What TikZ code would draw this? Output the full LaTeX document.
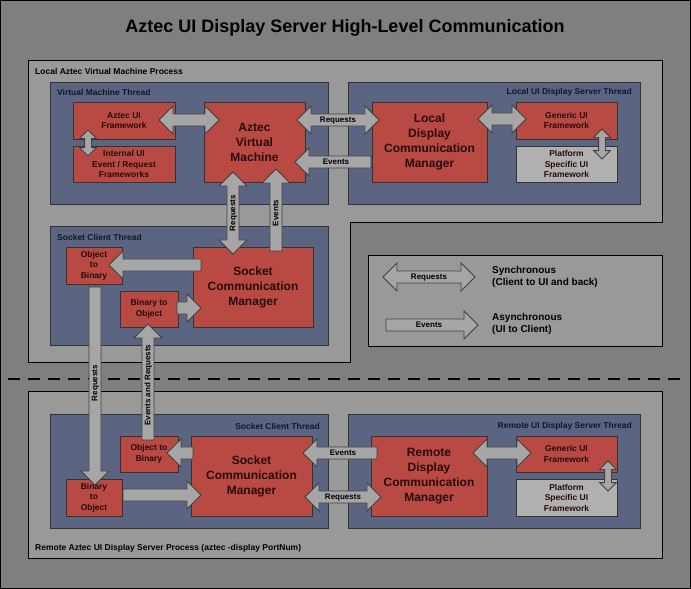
\documentclass[tikz,border=0pt]{standalone}
\usepackage{fontspec}
\setmainfont{Liberation Sans}
\usetikzlibrary{shapes.arrows}
\definecolor{bggray}{RGB}{127,127,127}
\definecolor{procgray}{RGB}{153,153,153}
\definecolor{threadblue}{RGB}{91,100,128}
\definecolor{boxred}{RGB}{185,74,67}
\definecolor{boxgray}{RGB}{176,176,176}
\definecolor{arrgray}{RGB}{166,166,166}
\definecolor{darktext}{RGB}{40,10,10}
\definecolor{navytext}{RGB}{16,24,48}
\tikzset{
  box/.style={draw=black!80, line width=1pt, inner sep=1pt, align=center,
    text=darktext, font=\fontsize{8.5}{10.5}\selectfont\bfseries},
  rbox/.style={box, fill=boxred},
  gbox/.style={box, fill=boxgray},
  big/.style={font=\fontsize{12}{15}\selectfont\bfseries},
  thread/.style={draw=black!80, line width=1pt, fill=threadblue},
  proc/.style={draw=black, line width=1pt, fill=procgray},
  tlabel/.style={font=\fontsize{8.5}{10}\selectfont\bfseries, text=navytext, inner sep=0pt},
  plabel/.style={font=\fontsize{8.5}{10}\selectfont\bfseries, text=black, inner sep=0pt},
  arr/.style={draw=black!75, line width=0.8pt, fill=arrgray, inner sep=1.5pt,
    text height=6.5pt, text depth=1.8pt, font=\fontsize{8}{9}\selectfont\bfseries},
  sarr/.style={arr, single arrow, single arrow head extend=8pt},
  darr/.style={arr, double arrow, double arrow head extend=8pt},
  small/.style={text height=3pt, text depth=1pt, inner sep=1pt},
  left/.style={shape border rotate=180},
}
\begin{document}
\begin{tikzpicture}[x=1pt, y=-1pt]
\useasboundingbox (0,0) rectangle (691,589);
\fill[bggray] (0,0) rectangle (691,589);
\draw[black, line width=1pt] (0.5,0.5) rectangle (690,588);
\node[font=\fontsize{18}{21}\selectfont\bfseries] (title) at (345,28) {Aztec UI Display Server High-Level Communication};

% local process
\draw[proc] (28,60) -| (662,222) -| (350,362) -| cycle;
\node[plabel, anchor=west] (lproc) at (35,71) {Local Aztec Virtual Machine Process};
\draw[thread] (50,82) rectangle (328,204);
\node[tlabel, anchor=west] (tvm) at (57,92) {Virtual Machine Thread};
\draw[thread] (348,82) rectangle (640,204);
\node[tlabel, anchor=east] (tluid) at (632,92) {Local UI Display Server Thread};
\draw[thread] (50,226) rectangle (328,345);
\node[tlabel, anchor=west] (tsc1) at (57,237) {Socket Client Thread};

% legend
\draw[black, line width=1pt, fill=procgray] (368,255) rectangle (662,346);
\node[plabel, anchor=west, align=left, font=\fontsize{10}{12.5}\selectfont\bfseries] (sync) at (492,277) {Synchronous\\(Client to UI and back)};
\node[plabel, anchor=west, align=left, font=\fontsize{10}{12.5}\selectfont\bfseries] (async) at (492,324) {Asynchronous\\(UI to Client)};

% separator
\draw[black, line width=2pt, dash pattern=on 12pt off 8pt] (8,379) -- (684,379);

% remote process
\draw[proc] (28,391) rectangle (662,558);
\node[plabel, anchor=west] (rproc) at (35,548) {Remote Aztec UI Display Server Process (aztec -display PortNum)};
\draw[thread] (50,414) rectangle (328,528);
\node[tlabel, anchor=east] (tsc2) at (320,426) {Socket Client Thread};
\draw[thread] (348,414) rectangle (640,528);
\node[tlabel, anchor=east] (truid) at (632,426) {Remote UI Display Server Thread};

% boxes
\node[rbox, minimum width=102, minimum height=37] (auf) at (124,120.5) {Aztec UI\\Framework};
\node[rbox, minimum width=102, minimum height=36] (iuf) at (124,164) {Internal UI\\Event / Request\\Frameworks};
\node[rbox, big, minimum width=101, minimum height=80] (avm) at (254.5,142) {Aztec\\Virtual\\Machine};
\node[rbox, big, minimum width=115, minimum height=80] (ldcm) at (429.5,142) {Local\\Display\\Communication\\Manager};
\node[rbox, minimum width=101, minimum height=37] (gui1) at (566.5,120.5) {Generic UI\\Framework};
\node[gbox, minimum width=101, minimum height=36] (psu1) at (566.5,164) {Platform\\Specific UI\\Framework};
\node[rbox, big, minimum width=120, minimum height=80] (scm1) at (253,287) {Socket\\Communication\\Manager};
\node[rbox, minimum width=56, minimum height=37] (otb1) at (94,265.5) {Object\\to\\Binary};
\node[rbox, minimum width=58, minimum height=36] (bto1) at (149,309) {Binary to\\Object};
\node[rbox, minimum width=58, minimum height=36] (otb2) at (149,454) {Object to\\Binary};
\node[rbox, minimum width=56, minimum height=37] (bto2) at (94,497.5) {Binary\\to\\Object};
\node[rbox, big, minimum width=121, minimum height=80] (scm2) at (251.5,476) {Socket\\Communication\\Manager};
\node[rbox, big, minimum width=116, minimum height=80] (rdcm) at (429,476) {Remote\\Display\\Communication\\Manager};
\node[rbox, minimum width=101, minimum height=36] (gui2) at (566.5,454) {Generic UI\\Framework};
\node[gbox, minimum width=101, minimum height=37] (psu2) at (566.5,497.5) {Platform\\Specific UI\\Framework};

% block arrows
\node[darr, minimum height=60, minimum width=28] (aAufAvm) at (189,120) {};
\node[darr, small, rotate=90, minimum height=26, double arrow head extend=5pt] (aAufIuf) at (88,143) {};
\node[darr, minimum height=82, minimum width=28] (aReq1) at (338,120) {Requests};
\node[sarr, left, minimum height=76, minimum width=28] (aEv1) at (336,162) {Events};
\node[darr, minimum height=48, minimum width=28] (aLdGui) at (502,119) {};
\node[darr, small, rotate=90, minimum height=30, double arrow head extend=5pt] (aGuiPs1) at (602,144) {};
\node[darr, rotate=90, minimum height=82, minimum width=28] (aReq2) at (233,213) {Requests};
\node[sarr, rotate=90, minimum height=82, minimum width=28] (aEv2) at (276,213) {Events};
\node[sarr, left, minimum height=92, minimum width=28] (aScmOtb) at (158,265) {};
\node[sarr, minimum height=24, minimum width=22] (aBtoScm) at (186,308) {};
\node[sarr, left, rotate=90, minimum height=198, minimum width=28] (aReq3) at (95,383) {Requests};
\node[sarr, rotate=90, minimum height=116, minimum width=28] (aEvReq) at (148,385) {Events and Requests};
\node[sarr, left, minimum height=26, minimum width=22] (aScmOtb2) at (183,453) {};
\node[sarr, minimum height=78, minimum width=28] (aBtoScm2) at (159,495) {};
\node[sarr, left, minimum height=74, minimum width=28] (aEv3) at (343,453) {Events};
\node[darr, minimum height=76, minimum width=28] (aReq4) at (343,497) {Requests};
\node[darr, minimum height=58, minimum width=28] (aRdGui) at (502,453) {};
\node[darr, small, rotate=90, minimum height=30, double arrow head extend=5pt] (aGuiPs2) at (608,476) {};
\node[darr, minimum height=92, minimum width=28] (lgReq) at (429,277) {Requests};
\node[sarr, minimum height=92, minimum width=28] (lgEv) at (429,325) {Events};
\end{tikzpicture}
\end{document}
